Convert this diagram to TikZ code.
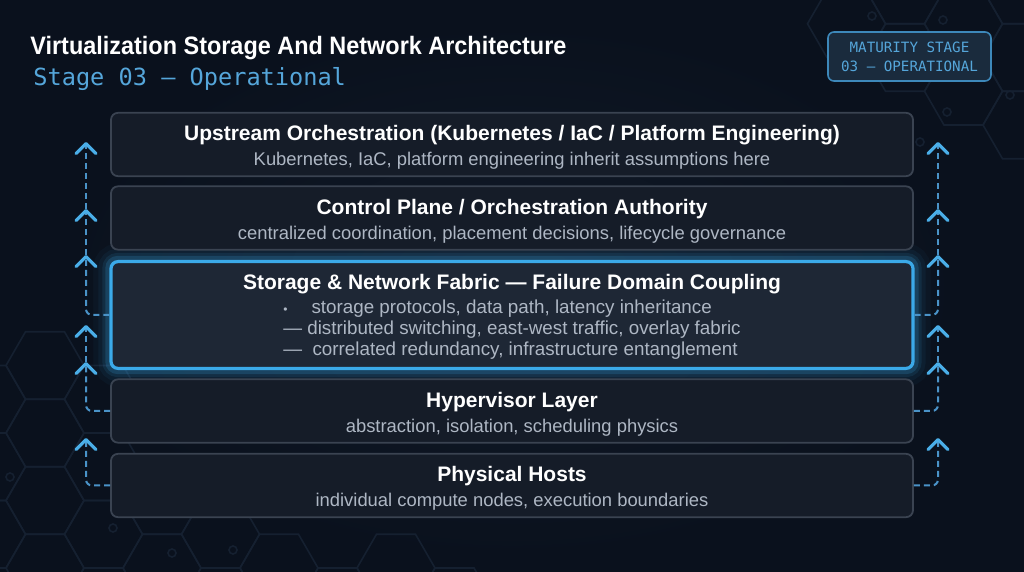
\documentclass[tikz,border=0pt]{standalone}
\usepackage{fontspec}
\setmainfont{Liberation Sans}
\setmonofont{DejaVu Sans Mono}
\newfontfamily\headfont[FakeStretch=0.93]{Liberation Sans}
\usetikzlibrary{arrows.meta,positioning,backgrounds}

\definecolor{bgdark}{HTML}{0A111D}
\definecolor{bgmid}{HTML}{111A28}
\definecolor{hexline}{HTML}{152030}
\definecolor{boxfill}{HTML}{151C28}
\definecolor{boxline}{HTML}{3A4351}
\definecolor{boxfillH}{HTML}{1E2735}
\definecolor{glowblue}{HTML}{3BAAE9}
\definecolor{dashblue}{HTML}{4A93C8}
\definecolor{tipblue}{HTML}{4AAEE8}
\definecolor{subgray}{HTML}{AEB7C4}
\definecolor{stageblue}{HTML}{55A6DA}
\definecolor{badgefill}{HTML}{1A2B3D}
\definecolor{badgeline}{HTML}{3D88BA}

\newcommand\ltitle[1]{{\fontsize{10.5}{12.5}\selectfont\bfseries\color{white}\rule{0pt}{10.6pt}#1}}

\begin{document}
\begin{tikzpicture}[x=0.5pt,y=-0.5pt,on grid,
    flow/.style={dashblue,line width=1pt,dash pattern=on 3pt off 2pt,rounded corners=3pt,
      -{Straight Barb[color=tipblue,length=5pt,width=10pt,line width=1.6pt,round]}}]
  \tikzstyle{layer}=[rectangle,rounded corners=3.5pt,draw=boxline,line width=0.9pt,fill=boxfill,
    minimum width=401pt,minimum height=31.5pt,align=center,text=subgray,
    font=\fontsize{9.2}{12.5}\selectfont]
  \tikzstyle{layerH}=[layer,draw=glowblue,line width=1.6pt,fill=boxfillH,minimum height=53pt,
    font=\fontsize{9.4}{10.5}\selectfont]
  \tikzstyle{badge}=[rectangle,rounded corners=3pt,draw=badgeline,line width=0.8pt,fill=badgefill,
    minimum width=81.5pt,minimum height=24.5pt,align=center,text=stageblue,
    font=\ttfamily\fontsize{7.1}{9.5}\selectfont]
  \tikzstyle{hexcell}=[hexline,line width=0.8pt]

  \useasboundingbox (0,0) rectangle (1024,572);

  % Heading
  \node[anchor=base west,inner sep=0,text=white,font=\headfont\bfseries\fontsize{12.6}{14}\selectfont]
    (title) at (30,55) {Virtualization Storage And Network Architecture};
  \node[anchor=base west,inner sep=0,text=stageblue,font=\ttfamily\fontsize{11.8}{14}\selectfont]
    (stage) at (33,86) {Stage 03 — Operational};
  \node[badge] (badge) at (909.5,56.5) {MATURITY STAGE\\03 — OPERATIONAL};

  % Layer stack
  \node[layer]  (L_up) at (512,144.5) {\ltitle{Upstream Orchestration (Kubernetes / IaC / Platform Engineering)}\\
    Kubernetes, IaC, platform engineering inherit assumptions here};
  \node[layer]  (L_cp) [below=36.75pt of L_up] {\ltitle{Control Plane / Orchestration Authority}\\
    centralized coordination, placement decisions, lifecycle governance};
  \node[layerH] (L_sn) [below=48.5pt of L_cp] {\ltitle{Storage \& Network Fabric — Failure Domain Coupling}\\[1.5pt]
    \begin{tabular}[t]{@{}l@{}}
      {\fontsize{6}{6}\selectfont •}\hspace*{12pt}storage protocols, data path, latency inheritance\\
      — distributed switching, east-west traffic, overlay fabric\\
      —\ \ correlated redundancy, infrastructure entanglement
    \end{tabular}};
  \node[layer]  (L_hv) [below=48pt of L_sn] {\ltitle{Hypervisor Layer}\\
    abstraction, isolation, scheduling physics};
  \node[layer]  (L_ph) [below=37.25pt of L_hv] {\ltitle{Physical Hosts}\\
    individual compute nodes, execution boundaries};

  % Arrow tips along the sides
  \foreach \s/\x in {l/86, r/938} {
    \coordinate (t\s_1) at (\x,142);
    \coordinate (t\s_2) at (\x,209);
    \coordinate (t\s_3) at (\x,255);
    \coordinate (t\s_4) at (\x,325);
    \coordinate (t\s_5) at (\x,362);
    \coordinate (t\s_6) at (\x,438);
  }

  \foreach \s/\a in {l/west, r/east} {
    \draw[flow] (L_sn.\a) -| (t\s_3);
    \draw[flow] (t\s_3) -- (t\s_2);
    \draw[flow] (t\s_2) -- (t\s_1);
    \draw[flow] (L_hv.\a) -| (t\s_5);
    \draw[flow] (t\s_5) -- (t\s_4);
    \draw[flow] (L_ph.\a) -| (t\s_6);
  }

  \begin{scope}[on background layer]
    \fill[bgdark] (0,0) rectangle (1024,572);
    \shade[inner color=bgmid,outer color=bgdark] (60,20) rectangle (964,560);
    % honeycomb
    \foreach \cx/\cy in {45/365.5, 45/433, 45/500.5, 45/568, -13.5/399.25, -13.5/466.75, -13.5/534.25,
        103.5/399.25, 103.5/466.75, 103.5/534.25, 103.5/601.75, 162/500.5, 162/568, 220.5/534.25,
        220.5/601.75, 279/568, 337.5/601.75, 396/568, 454.5/601.75,
        846.5/23.75, 905/-10, 905/57.5, 963.5/23.75, 963.5/91.25, 1022/-10, 1022/57.5, 1022/125}
      \draw[hexcell] (\cx,\cy) +(0:39) -- +(60:39) -- +(120:39) -- +(180:39) -- +(240:39) -- +(300:39) -- cycle;
    \foreach \cx/\cy in {10/477, 113/528, 172/553, 233/550, 872/16, 943/20, 1010/95, 920/142, 947/112}
      \draw[hexcell] (\cx,\cy) circle (4);
    % glow round the coupling layer
    \foreach \w/\o in {16/0.04, 11/0.06, 7/0.1, 4/0.18}
      \draw[glowblue,line width=\w pt,opacity=\o,rounded corners=4pt]
        (L_sn.south west) rectangle (L_sn.north east);
  \end{scope}
\end{tikzpicture}
\end{document}
